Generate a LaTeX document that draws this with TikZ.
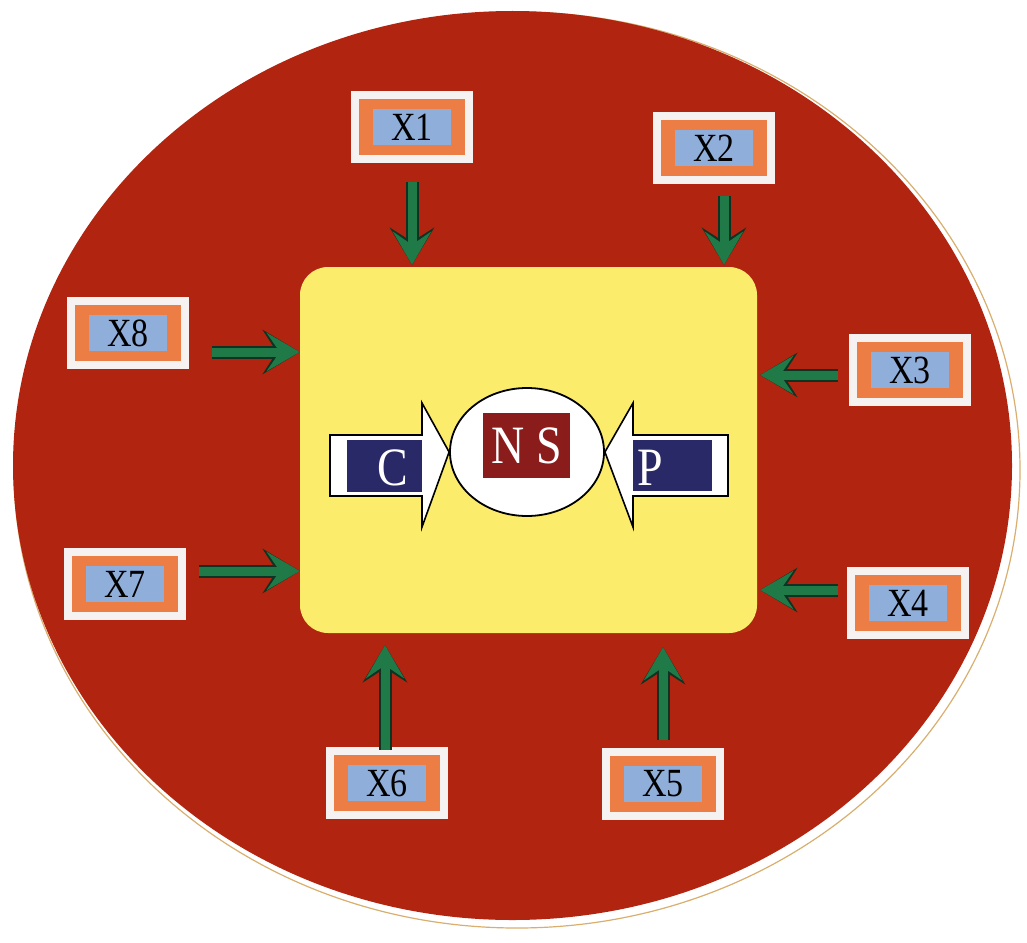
\documentclass[tikz,border=0pt]{standalone}
\usepackage{fontspec}
\newfontfamily\lblfont[FakeStretch=0.85]{Liberation Serif}
\usetikzlibrary{arrows.meta,shapes.geometric}

\definecolor{disc}{HTML}{B02410}
\definecolor{rimtan}{HTML}{D9AE6E}
\definecolor{coreyellow}{HTML}{FCEC6C}
\definecolor{frameorange}{HTML}{EC7E45}
\definecolor{labelblue}{HTML}{90AEDA}
\definecolor{framewhite}{HTML}{F6F2F2}
\definecolor{arrowgreen}{HTML}{1F7A48}
\definecolor{arrowdark}{HTML}{0F3322}
\definecolor{barnavy}{HTML}{2A2968}
\definecolor{nsred}{HTML}{8A1C1C}

\tikzset{
  factor/.style={
    rectangle, fill=framewhite, minimum width=122pt, minimum height=72pt,
    inner sep=0pt, font=\lblfont\fontsize{40}{40}\selectfont, text=black,
    path picture={
      \fill[frameorange]
        ([shift={(8pt,8pt)}]path picture bounding box.south west) rectangle
        ([shift={(-8pt,-8pt)}]path picture bounding box.north east);
      \fill[labelblue]
        ([shift={(22pt,18pt)}]path picture bounding box.south west) rectangle
        ([shift={(-22pt,-18pt)}]path picture bounding box.north east);
    }},
  feed/.style={
    arrowgreen, line width=9pt,
    -{Stealth[length=33pt,width=38pt,inset=13pt]},
    preaction={draw=arrowdark, line width=13pt,
      -{Stealth[length=37pt,width=44pt,inset=14pt]}}},
  bigletter/.style={text=white, inner sep=0pt,
    font=\lblfont\fontsize{54}{54}\selectfont},
  blockarrow/.style={fill=white, draw=black, line width=1.6pt, line join=miter}
}

\begin{document}
\begin{tikzpicture}[x=1pt,y=-1pt]
\useasboundingbox (0,0) rectangle (1027,942);

% disc with its pale rim and tan edge
\fill[white, draw=rimtan, line width=1.2pt] (517,470) ellipse [x radius=503, y radius=458];
\fill[disc] (512.5,465.5) ellipse [x radius=499.5, y radius=454.5];

% central field
\node[fill=coreyellow, rounded corners=28pt, minimum width=457pt,
      minimum height=366pt, inner sep=0pt] (core) at (528.5,450) {};

% the eight surrounding factors
\node[factor] (x1) at (412,127) {X1};
\node[factor] (x2) at (714,148) {X2};
\node[factor] (x3) at (910,370) {X3};
\node[factor] (x4) at (908,603) {X4};
\node[factor] (x5) at (663,784) {X5};
\node[factor] (x6) at (387,783) {X6};
\node[factor] (x7) at (125,584) {X7};
\node[factor] (x8) at (128,333) {X8};

% influences pointing into the central field
\draw[feed, shorten >=2pt] ([yshift=-19pt]x1.south) -- (x1.south |- core.north);
\draw[feed, shorten >=2pt] ([xshift=10pt,yshift=-12pt]x2.south) -- ([xshift=10pt]x2.south |- core.north);
\draw[feed, shorten >=3pt] ([xshift=-11pt,yshift=-5pt]x3.west) -- ([yshift=-5pt]x3.west -| core.east);
\draw[feed, shorten >=3pt] ([xshift=-9pt,yshift=13pt]x4.west) -- ([yshift=13pt]x4.west -| core.east);
\draw[feed, shorten >=14pt] ([yshift=8pt]x5.north) -- (x5.north |- core.south);
\draw[feed, shorten >=12pt] ([xshift=-2pt,yshift=-3pt]x6.north) -- ([xshift=-2pt]x6.north |- core.south);
\draw[feed] ([xshift=13pt,yshift=13pt]x7.east) -- ([yshift=13pt]x7.east -| core.west);
\draw[feed] ([xshift=23pt,yshift=-19pt]x8.east) -- ([yshift=-19pt]x8.east -| core.west);

% C and P converging on N S
\node[ellipse, fill=white, draw=black, line width=1.8pt, minimum width=154pt,
      minimum height=128pt, inner sep=0pt] (hub) at (527,452) {};
\node[fill=nsred, minimum width=87pt, minimum height=65pt, inner sep=0pt]
      (nsbox) at (526.5,445.5) {};
\node[bigletter] (ns) at (526.5,445.5) {N S};

\draw[blockarrow] (330,435) -- (422,435) -- (422,403) -- (hub.west)
  -- (422,527) -- (422,496) -- (330,496) -- cycle;
\draw[blockarrow] (728,435) -- (633,435) -- (633,403) -- (hub.east)
  -- (633,527) -- (633,496) -- (728,496) -- cycle;

\node[fill=barnavy, minimum width=75pt, minimum height=52pt, inner sep=0pt]
      (cbar) at (384.5,466) {};
\node[fill=barnavy, minimum width=79pt, minimum height=51pt, inner sep=0pt]
      (pbar) at (672.5,465.5) {};
\node[bigletter] (c) at (393,468) {C};
\node[bigletter] (p) at (650,468) {P};
\end{tikzpicture}
\end{document}
